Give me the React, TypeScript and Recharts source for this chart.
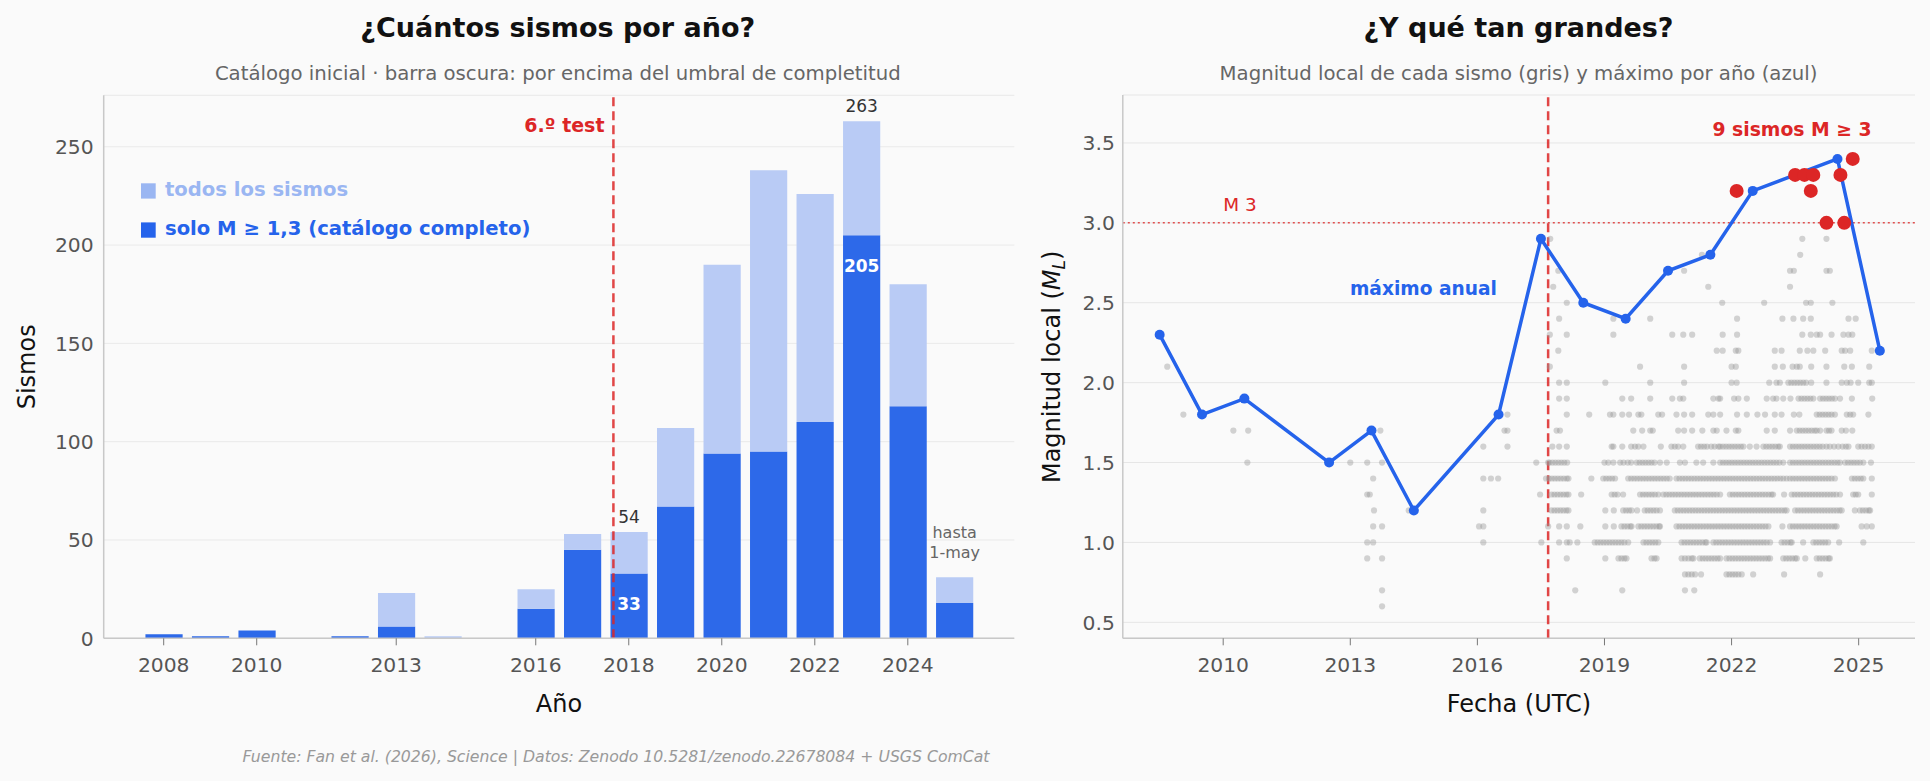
import React from 'react';
import {
  ComposedChart, Bar, XAxis, YAxis, CartesianGrid, ReferenceLine, LabelList,
  ScatterChart, Scatter,
} from 'recharts';

// ---------------- Left chart data ----------------
const years = [2008, 2009, 2010, 2012, 2013, 2014, 2016, 2017, 2018, 2019, 2020, 2021, 2022, 2023, 2024, 2025];
const allQuakes = [2, 1, 4, 1, 23, 1, 25, 53, 54, 107, 190, 238, 226, 263, 180, 31];
const completeQuakes = [2, 1, 4, 1, 6, 0, 15, 45, 33, 67, 94, 95, 110, 205, 118, 18];
const yearTicks = [2008, 2010, 2013, 2016, 2018, 2020, 2022, 2024];
const countTicks = [0, 50, 100, 150, 200, 250];
const highlightYears = [2018, 2023];
const partialYear = 2025;
const testDate = 2017.67;

// ---------------- Right chart data ----------------
const dateTicks = [2010, 2013, 2016, 2019, 2022, 2025];
const magTicks = [0.5, 1.0, 1.5, 2.0, 2.5, 3.0, 3.5];
const maxYears = [2008, 2009, 2010, 2012, 2013, 2014, 2016, 2017, 2018, 2019, 2020, 2021, 2022, 2023, 2024, 2025];
const maxMags = [2.3, 1.8, 1.9, 1.5, 1.7, 1.2, 1.8, 2.9, 2.5, 2.4, 2.7, 2.8, 3.2, 3.3, 3.4, 2.2];
const bigDates = [2022.12, 2023.50, 2023.72, 2023.93, 2023.87, 2024.24, 2024.57, 2024.66, 2024.86];
const bigMags = [3.2, 3.3, 3.3, 3.3, 3.2, 3.0, 3.3, 3.0, 3.4];

// event dates (decimal years) grouped by local magnitude
const m06 = [2013.75];
const m07 = [2013.75, 2018.31, 2019.42, 2020.90, 2021.12];
const m08 = [2020.90, 2020.98, 2021.06, 2021.14, 2021.28, 2021.88, 2021.95, 2022.02, 2022.09, 2022.16, 2022.24, 2022.51, 2023.24, 2024.09];
const m09 = [2013.40, 2013.75, 2018.11, 2019.02, 2019.33, 2019.40, 2019.47, 2019.52, 2020.11, 2020.18, 2020.23, 2020.82, 2020.90, 2020.98, 2021.06, 2021.10, 2021.25, 2021.32, 2021.39, 2021.46, 2021.53, 2021.60, 2021.67, 2021.73, 2021.88, 2021.95, 2022.02, 2022.09, 2022.16, 2022.23, 2022.30, 2022.37, 2022.44, 2022.51, 2022.58, 2022.65, 2022.72, 2022.79, 2022.86, 2022.91, 2023.22, 2023.29, 2023.36, 2023.43, 2023.50, 2023.54, 2023.74, 2024.01, 2024.08, 2024.15, 2024.22, 2024.29, 2024.32];
const m10 = [2013.40, 2013.54, 2016.14, 2017.51, 2017.93, 2018.11, 2018.18, 2018.36, 2018.77, 2018.84, 2018.91, 2018.98, 2019.05, 2019.12, 2019.19, 2019.26, 2019.33, 2019.40, 2019.47, 2019.56, 2019.92, 2019.99, 2020.06, 2020.13, 2020.20, 2020.27, 2020.82, 2020.89, 2020.96, 2021.03, 2021.10, 2021.17, 2021.24, 2021.31, 2021.38, 2021.41, 2021.57, 2021.64, 2021.71, 2021.78, 2021.85, 2021.92, 2021.99, 2022.06, 2022.13, 2022.20, 2022.27, 2022.34, 2022.41, 2022.48, 2022.55, 2022.62, 2022.69, 2022.76, 2022.83, 2022.91, 2023.18, 2023.25, 2023.32, 2023.39, 2023.42, 2023.69, 2023.93, 2024.00, 2024.07, 2024.14, 2024.21, 2024.28, 2024.54, 2025.11];
const m11 = [2013.54, 2013.75, 2016.04, 2016.14, 2017.67, 2017.93, 2018.11, 2018.43, 2019.02, 2019.22, 2019.40, 2019.47, 2019.54, 2019.61, 2019.64, 2019.80, 2019.87, 2019.94, 2020.01, 2020.08, 2020.15, 2020.22, 2020.29, 2020.31, 2020.70, 2020.77, 2020.84, 2020.91, 2020.98, 2021.05, 2021.12, 2021.19, 2021.26, 2021.33, 2021.40, 2021.47, 2021.54, 2021.61, 2021.68, 2021.75, 2021.82, 2021.89, 2021.96, 2022.03, 2022.10, 2022.17, 2022.24, 2022.31, 2022.38, 2022.45, 2022.52, 2022.59, 2022.66, 2022.73, 2022.80, 2022.87, 2023.20, 2023.38, 2023.45, 2023.52, 2023.59, 2023.66, 2023.73, 2023.80, 2023.87, 2023.94, 2024.01, 2024.08, 2024.15, 2024.22, 2024.29, 2024.36, 2024.43, 2024.48, 2025.07, 2025.19, 2025.31];
const m12 = [2013.56, 2014.38, 2016.14, 2017.75, 2017.82, 2017.89, 2017.96, 2018.03, 2018.10, 2018.15, 2019.02, 2019.22, 2019.44, 2019.51, 2019.58, 2019.64, 2019.77, 2019.95, 2020.02, 2020.09, 2020.16, 2020.23, 2020.31, 2020.66, 2020.73, 2020.80, 2020.87, 2020.94, 2021.01, 2021.08, 2021.15, 2021.22, 2021.29, 2021.36, 2021.43, 2021.50, 2021.57, 2021.64, 2021.71, 2021.78, 2021.85, 2021.92, 2021.99, 2022.06, 2022.13, 2022.20, 2022.27, 2022.34, 2022.41, 2022.48, 2022.55, 2022.62, 2022.69, 2022.76, 2022.83, 2022.90, 2022.97, 2023.04, 2023.11, 2023.18, 2023.25, 2023.30, 2023.50, 2023.57, 2023.64, 2023.71, 2023.78, 2023.85, 2023.92, 2023.99, 2024.06, 2024.13, 2024.20, 2024.27, 2024.34, 2024.41, 2024.48, 2024.55, 2024.60, 2024.91, 2025.03, 2025.10, 2025.17, 2025.24, 2025.27];
const m13 = [2013.40, 2013.46, 2017.48, 2017.75, 2017.82, 2017.89, 2017.96, 2018.03, 2018.10, 2018.15, 2018.45, 2019.17, 2019.24, 2019.31, 2019.44, 2019.84, 2019.91, 2019.98, 2020.05, 2020.12, 2020.19, 2020.27, 2020.39, 2020.46, 2020.53, 2020.60, 2020.67, 2020.74, 2020.81, 2020.88, 2020.95, 2021.02, 2021.09, 2021.16, 2021.23, 2021.30, 2021.37, 2021.44, 2021.51, 2021.58, 2021.65, 2021.73, 2021.96, 2022.03, 2022.10, 2022.17, 2022.24, 2022.31, 2022.38, 2022.45, 2022.52, 2022.59, 2022.66, 2022.73, 2022.80, 2022.87, 2022.94, 2022.98, 2023.24, 2023.42, 2023.49, 2023.56, 2023.63, 2023.70, 2023.77, 2023.84, 2023.91, 2023.98, 2024.05, 2024.12, 2024.19, 2024.26, 2024.33, 2024.40, 2024.47, 2024.56, 2024.87, 2024.93, 2024.99, 2025.31];
const m14 = [2013.54, 2016.14, 2016.32, 2016.49, 2017.62, 2017.69, 2017.76, 2017.83, 2017.90, 2017.97, 2018.04, 2018.11, 2018.15, 2018.69, 2018.97, 2019.04, 2019.11, 2019.18, 2019.25, 2019.56, 2019.63, 2019.70, 2019.77, 2019.84, 2019.91, 2019.98, 2020.05, 2020.12, 2020.19, 2020.26, 2020.33, 2020.40, 2020.47, 2020.54, 2020.70, 2020.77, 2020.84, 2020.91, 2020.98, 2021.05, 2021.12, 2021.19, 2021.26, 2021.33, 2021.40, 2021.47, 2021.54, 2021.61, 2021.68, 2021.75, 2021.82, 2021.89, 2021.96, 2022.03, 2022.10, 2022.17, 2022.24, 2022.31, 2022.38, 2022.45, 2022.52, 2022.59, 2022.66, 2022.73, 2022.80, 2022.87, 2022.94, 2023.01, 2023.08, 2023.15, 2023.22, 2023.30, 2023.38, 2023.45, 2023.52, 2023.59, 2023.66, 2023.73, 2023.80, 2023.87, 2023.94, 2024.01, 2024.08, 2024.15, 2024.22, 2024.29, 2024.36, 2024.44, 2024.84, 2024.91, 2024.98, 2025.05, 2025.11, 2025.31];
const m15 = [2010.57, 2013.00, 2013.40, 2013.75, 2017.39, 2017.67, 2017.70, 2017.77, 2017.84, 2017.91, 2017.98, 2018.05, 2018.12, 2019.00, 2019.09, 2019.21, 2019.37, 2019.45, 2019.55, 2019.63, 2019.76, 2019.83, 2019.90, 2019.97, 2020.04, 2020.11, 2020.18, 2020.31, 2020.47, 2020.78, 2020.90, 2021.17, 2021.33, 2021.57, 2021.73, 2021.80, 2021.87, 2021.94, 2022.01, 2022.08, 2022.15, 2022.22, 2022.29, 2022.36, 2022.43, 2022.50, 2022.57, 2022.64, 2022.71, 2022.78, 2022.85, 2022.92, 2022.99, 2023.06, 2023.13, 2023.22, 2023.38, 2023.45, 2023.52, 2023.59, 2023.66, 2023.73, 2023.80, 2023.87, 2023.94, 2024.01, 2024.08, 2024.15, 2024.22, 2024.29, 2024.36, 2024.43, 2024.50, 2024.56, 2024.68, 2024.75, 2024.82, 2024.89, 2024.96, 2025.03, 2025.11, 2025.29];
const m16 = [2016.14, 2016.71, 2017.77, 2017.93, 2018.11, 2019.17, 2019.21, 2019.42, 2019.63, 2019.72, 2019.80, 2019.92, 2020.33, 2020.58, 2020.66, 2020.74, 2020.86, 2021.21, 2021.28, 2021.35, 2021.42, 2021.52, 2021.60, 2021.69, 2021.73, 2021.80, 2021.87, 2021.94, 2022.01, 2022.08, 2022.15, 2022.22, 2022.28, 2022.43, 2022.59, 2022.75, 2022.82, 2022.89, 2022.96, 2023.03, 2023.10, 2023.14, 2023.38, 2023.45, 2023.52, 2023.59, 2023.66, 2023.73, 2023.80, 2023.87, 2023.94, 2024.01, 2024.08, 2024.15, 2024.24, 2024.32, 2024.42, 2024.52, 2024.62, 2024.70, 2024.76, 2024.99, 2025.07, 2025.15, 2025.23, 2025.31];
const m17 = [2010.24, 2010.59, 2013.71, 2016.64, 2016.71, 2017.87, 2017.95, 2019.68, 2019.89, 2020.08, 2020.14, 2020.74, 2020.88, 2021.07, 2021.31, 2021.57, 2021.65, 2021.88, 2022.10, 2022.16, 2022.83, 2023.02, 2023.38, 2023.54, 2023.61, 2023.68, 2023.75, 2023.82, 2023.89, 2023.96, 2024.01, 2024.09, 2024.24, 2024.30, 2024.36, 2024.60, 2024.70, 2024.85];
const m18 = [2009.06, 2016.71, 2018.11, 2018.64, 2019.13, 2019.21, 2019.42, 2019.58, 2019.80, 2019.87, 2020.27, 2020.36, 2020.70, 2020.88, 2021.07, 2021.45, 2021.57, 2021.73, 2022.13, 2022.36, 2022.61, 2022.79, 2023.02, 2023.18, 2023.47, 2023.60, 2024.01, 2024.08, 2024.15, 2024.22, 2024.29, 2024.36, 2024.44, 2024.72, 2024.80, 2024.87, 2025.23];
const m19 = [2017.93, 2018.11, 2019.42, 2019.63, 2020.08, 2020.60, 2020.78, 2020.86, 2021.57, 2021.69, 2021.73, 2022.06, 2022.16, 2022.36, 2022.83, 2022.98, 2023.06, 2023.22, 2023.39, 2023.58, 2023.65, 2023.72, 2023.79, 2023.86, 2023.93, 2024.09, 2024.16, 2024.23, 2024.30, 2024.37, 2024.44, 2024.56, 2024.84, 2025.32];
const m20 = [2017.93, 2018.11, 2019.02, 2020.08, 2020.88, 2022.00, 2022.12, 2022.89, 2023.06, 2023.14, 2023.34, 2023.41, 2023.48, 2023.55, 2023.62, 2023.69, 2023.76, 2023.88, 2024.24, 2024.60, 2024.72, 2024.81, 2024.99, 2025.25, 2025.31];
const m21 = [2008.68, 2017.71, 2019.84, 2020.88, 2022.00, 2022.10, 2023.02, 2023.21, 2023.44, 2023.54, 2023.61, 2023.88, 2024.24, 2024.66, 2024.84, 2025.25];
const m22 = [2017.91, 2021.65, 2021.79, 2022.10, 2022.16, 2023.02, 2023.18, 2023.61, 2023.79, 2023.93, 2024.21, 2024.60, 2024.68, 2024.80, 2025.31];
const m23 = [2017.71, 2018.11, 2019.21, 2020.60, 2020.86, 2021.07, 2021.79, 2022.13, 2023.67, 2023.87, 2024.01, 2024.09, 2024.36, 2024.64, 2024.76, 2024.85];
const m24 = [2017.93, 2019.21, 2020.08, 2022.13, 2023.20, 2023.46, 2023.69, 2023.87, 2024.76, 2024.93];
const m25 = [2018.11, 2021.78, 2022.77, 2023.76, 2023.87, 2024.38];
const m26 = [2017.79, 2021.45, 2023.38];
const m27 = [2017.91, 2020.88, 2023.38, 2023.47, 2024.24, 2024.32];
const m28 = [2021.30, 2023.62];
const m29 = [2017.72, 2023.67, 2024.24];

const grayRows: [number, number[]][] = [
  [0.6, m06], [0.7, m07], [0.8, m08], [0.9, m09], [1.0, m10], [1.1, m11], [1.2, m12],
  [1.3, m13], [1.4, m14], [1.5, m15], [1.6, m16], [1.7, m17], [1.8, m18], [1.9, m19],
  [2.0, m20], [2.1, m21], [2.2, m22], [2.3, m23], [2.4, m24], [2.5, m25], [2.6, m26],
  [2.7, m27], [2.8, m28], [2.9, m29],
];

// ---------------- derived tables ----------------
const barData = years.map((y, i) => ({
  year: y,
  complete: completeQuakes[i],
  rest: allQuakes[i] - completeQuakes[i],
  total: allQuakes[i],
}));
const grayPoints = grayRows.flatMap(([m, dates]) => dates.map((d) => ({ x: d, y: m })));
const maxPoints = maxYears.map((y, i) => ({ x: y + 0.5, y: maxMags[i] }));
const bigPoints = bigDates.map((d, i) => ({ x: d, y: bigMags[i] }));

// ---------------- styles ----------------
const FONT = 'DejaVu Sans';
const DARK = '#2d69e9';
const LIGHT = '#b9cbf5';
const BLUE = '#2563eb';
const RED = '#dc2626';
const tickStyle = { fontSize: 20.3, fill: '#555', fontFamily: FONT };

const getBox = (p: any) => {
  const vb = p.viewBox || {};
  return {
    x: vb.x ?? p.x, y: vb.y ?? p.y, width: vb.width ?? p.width, height: vb.height ?? p.height,
  };
};

const findYear = (p: any) => barData.find((d) => d.year === Number(p.value));

const insideLabel = (p: any) => {
  const d = findYear(p);
  if (!d || !highlightYears.includes(d.year)) return null;
  const b = getBox(p);
  return (
    <text x={b.x + b.width / 2} y={b.y + 37} textAnchor="middle" fontSize={17} fontWeight="bold" fill="#fff" fontFamily={FONT}>
      {d.complete}
    </text>
  );
};

const topLabel = (p: any) => {
  const d = findYear(p);
  if (!d) return null;
  const b = getBox(p);
  const cx = b.x + b.width / 2;
  if (highlightYears.includes(d.year)) {
    return (
      <text x={cx} y={b.y - 9} textAnchor="middle" fontSize={17} fill="#333" fontFamily={FONT}>
        {d.total}
      </text>
    );
  }
  if (d.year === partialYear) {
    return (
      <text textAnchor="middle" fontSize={16} fill="#666" fontFamily={FONT}>
        <tspan x={cx} y={b.y - 39}>hasta</tspan>
        <tspan x={cx} y={b.y - 19}>1-may</tspan>
      </text>
    );
  }
  return null;
};

const grayDot = (p: any) => <circle cx={p.cx} cy={p.cy} r={3.1} fill="#999" fillOpacity={0.42} />;
const blueDot = (p: any) => <circle cx={p.cx} cy={p.cy} r={5} fill={BLUE} />;
const redDot = (p: any) => <circle cx={p.cx} cy={p.cy} r={7} fill={RED} />;

function CountChart() {
  return (
    <ComposedChart
      width={1030}
      height={781}
      data={barData}
      margin={{ top: 95.3, right: 15.7, bottom: 102.7, left: 43.7 }}
    >
      <XAxis
        dataKey="year"
        type="number"
        domain={[2006.71, 2026.29]}
        allowDataOverflow
        ticks={yearTicks}
        interval={0}
        height={40}
        tick={tickStyle}
        tickSize={7}
        tickMargin={12}
        axisLine={{ stroke: '#c8c8c8', strokeWidth: 1.5 }}
        tickLine={{ stroke: '#777' }}
      />
      <YAxis
        type="number"
        domain={[0, 276.15]}
        allowDataOverflow
        ticks={countTicks}
        interval={0}
        width={60}
        tick={tickStyle}
        tickSize={0}
        tickMargin={10}
        axisLine={{ stroke: '#c8c8c8', strokeWidth: 1.5 }}
        tickLine={false}
      />
      <Bar dataKey="complete" stackId="s" fill={DARK} barSize={37.2} isAnimationActive={false}>
        <LabelList dataKey="year" content={insideLabel} />
      </Bar>
      <Bar dataKey="rest" stackId="s" fill={LIGHT} barSize={37.2} isAnimationActive={false}>
        <LabelList dataKey="year" content={topLabel} />
      </Bar>
      <CartesianGrid vertical={false} stroke="#d4d4d4" strokeOpacity={0.45} />
      <ReferenceLine x={testDate} stroke={RED} strokeOpacity={0.85} strokeWidth={2.5} strokeDasharray="9 5" />
    </ComposedChart>
  );
}

function MagnitudeChart() {
  return (
    <ScatterChart
      width={900}
      height={781}
      margin={{ top: 95, right: 15, bottom: 102.7, left: 32.8 }}
    >
      <CartesianGrid vertical={false} stroke="#e6e6e6" />
      <XAxis
        dataKey="x"
        type="number"
        domain={[2007.63, 2026.33]}
        allowDataOverflow
        ticks={dateTicks}
        interval={0}
        height={40}
        tick={tickStyle}
        tickSize={7}
        tickMargin={12}
        axisLine={{ stroke: '#c8c8c8', strokeWidth: 1.5 }}
        tickLine={{ stroke: '#777' }}
      />
      <YAxis
        dataKey="y"
        type="number"
        domain={[0.4, 3.8]}
        allowDataOverflow
        ticks={magTicks}
        interval={0}
        width={60}
        tick={tickStyle}
        tickFormatter={(v: number) => v.toFixed(1)}
        tickSize={0}
        tickMargin={8}
        axisLine={{ stroke: '#c8c8c8', strokeWidth: 1.5 }}
        tickLine={false}
      />
      <Scatter data={grayPoints} shape={grayDot} isAnimationActive={false} />
      <ReferenceLine y={3} stroke={RED} strokeOpacity={0.8} strokeWidth={1.5} strokeDasharray="2 3" />
      <ReferenceLine x={testDate} stroke={RED} strokeOpacity={0.85} strokeWidth={2.5} strokeDasharray="9 5" />
      <Scatter
        data={maxPoints}
        shape={blueDot}
        line={{ stroke: BLUE, strokeWidth: 3.5 }}
        lineJointType="linear"
        isAnimationActive={false}
      />
      <Scatter data={bigPoints} shape={redDot} isAnimationActive={false} />
    </ScatterChart>
  );
}

export default function App() {
  return (
    <div
      style={{
        position: 'absolute', left: 0, top: 0, width: 1930, height: 781,
        background: '#fafafa', fontFamily: FONT, overflow: 'hidden',
      }}
    >
      <div style={{ position: 'absolute', left: 0, top: 0 }}>
        <CountChart />
      </div>
      <div style={{ position: 'absolute', left: 1030, top: 0 }}>
        <MagnitudeChart />
      </div>
      <svg
        width={1930}
        height={781}
        style={{ position: 'absolute', left: 0, top: 0, pointerEvents: 'none' }}
        fontFamily={FONT}
      >
        {/* titles */}
        <text x={557.8} y={37} textAnchor="middle" fontSize={27} fontWeight="bold" fill="#111">¿Cuántos sismos por año?</text>
        <text x={557.8} y={79.5} textAnchor="middle" fontSize={19.7} fill="#666">Catálogo inicial · barra oscura: por encima del umbral de completitud</text>
        <text x={1518.5} y={37} textAnchor="middle" fontSize={27} fontWeight="bold" fill="#111">¿Y qué tan grandes?</text>
        <text x={1518.5} y={79.5} textAnchor="middle" fontSize={19.7} fill="#666">Magnitud local de cada sismo (gris) y máximo por año (azul)</text>

        {/* axis labels */}
        <text x={34.7} y={366.8} transform="rotate(-90 34.7 366.8)" textAnchor="middle" fontSize={24} fill="#111">Sismos</text>
        <text x={559} y={711.7} textAnchor="middle" fontSize={24} fill="#111">Año</text>
        <text x={1060} y={366.8} transform="rotate(-90 1060 366.8)" textAnchor="middle" fontSize={24} fill="#111">
          Magnitud local (<tspan fontStyle="italic">M</tspan><tspan fontStyle="italic" fontSize={17} dy={5}>L</tspan><tspan dy={-5}>)</tspan>
        </text>
        <text x={1519} y={711.7} textAnchor="middle" fontSize={24} fill="#111">Fecha (UTC)</text>

        {/* legend */}
        <rect x={141} y={183.3} width={14.7} height={15.3} fill="#9ab6f2" />
        <text x={165} y={196} fontSize={19.6} fontWeight="bold" fill="#9ab6f2">todos los sismos</text>
        <rect x={141} y={222.4} width={14.7} height={15.3} fill={BLUE} />
        <text x={165} y={235} fontSize={19.6} fontWeight="bold" fill={BLUE}>solo M ≥ 1,3 (catálogo completo)</text>

        {/* annotations */}
        <text x={604.5} y={132} textAnchor="end" fontSize={19} fontWeight="bold" fill={RED}>6.º test</text>
        <text x={1223.3} y={211} fontSize={18.4} fill={RED}>M 3</text>
        <text x={1350} y={295} fontSize={18.6} fontWeight="bold" fill={BLUE}>máximo anual</text>
        <text x={1792} y={135.5} textAnchor="middle" fontSize={18.8} fontWeight="bold" fill={RED}>9 sismos M ≥ 3</text>

        {/* source */}
        <text x={616} y={762} textAnchor="middle" fontSize={15.7} fontStyle="italic" fill="#999">Fuente: Fan et al. (2026), Science | Datos: Zenodo 10.5281/zenodo.22678084 + USGS ComCat</text>
      </svg>
    </div>
  );
}
